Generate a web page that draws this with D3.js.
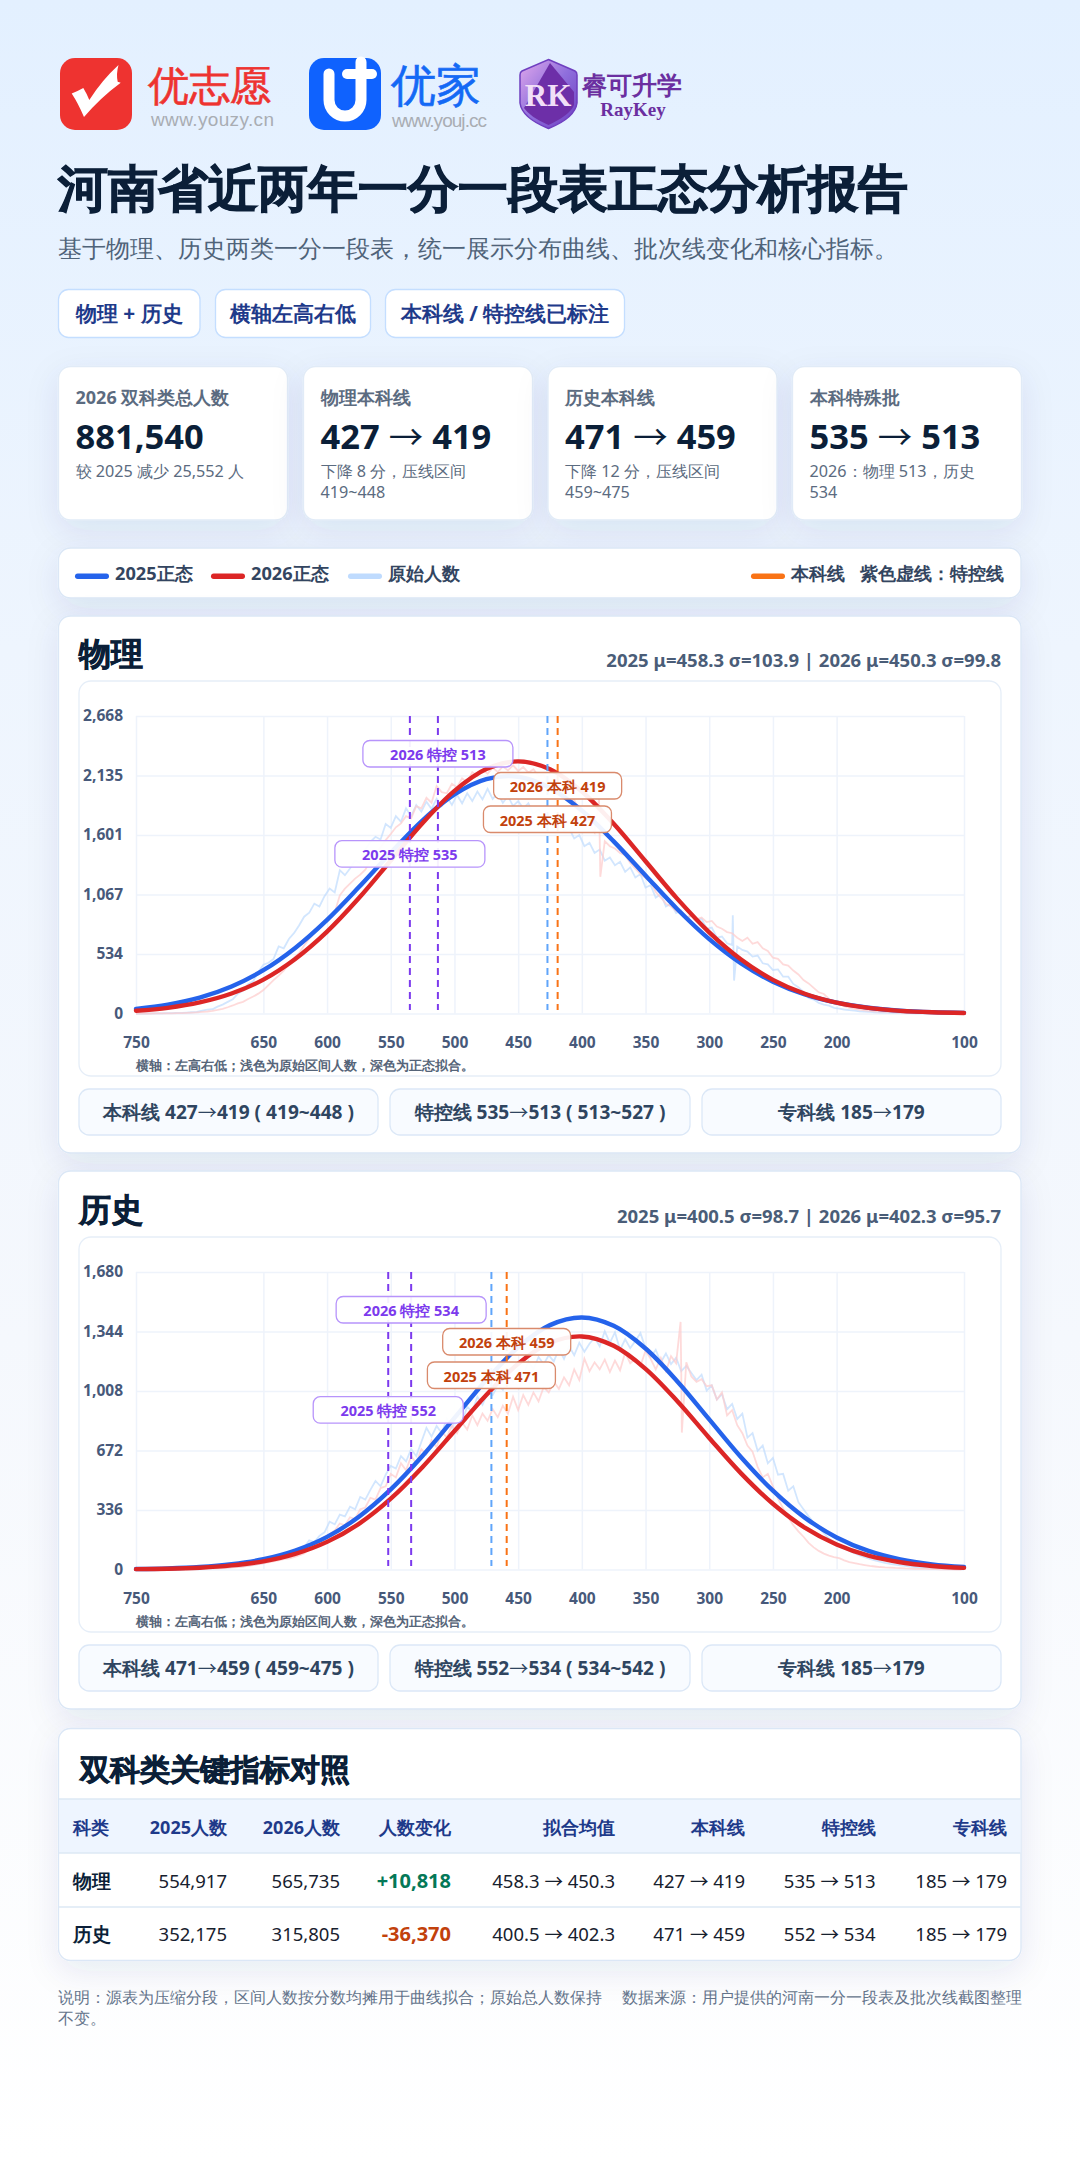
<!DOCTYPE html>
<html><head><meta charset="utf-8">
<script src="https://cdn.jsdelivr.net/npm/d3@7/dist/d3.min.js"></script>
<style>html,body{margin:0;padding:0;background:#fff}svg{display:block}text{font-family:"Noto Sans"}</style>
</head><body><div id="root"></div>
<script>
// ---------- data ----------
const xTicks=[750,650,600,550,500,450,400,350,300,250,200,100];
const yTicksPhys=[0,534,1067,1601,2135,2668];
const yTicksHist=[0,336,672,1008,1344,1680];
const fitScores=[750,725,700,675,650,625,600,575,550,525,500,475,450,425,400,375,350,325,300,275,250,225,200,175,150,125,100];
const physFit2025=[41,79,142,242,388,588,840,1134,1442,1733,1965,2102,2123,2023,1820,1544,1238,935,667,449,285,171,97,52,26,12,6];
const physFit2026=[25,51,99,179,304,489,734,1035,1372,1709,1997,2193,2261,2190,1991,1701,1365,1028,728,484,302,177,97,50,24,11,5];
const histFit2025=[3,6,14,30,58,107,184,298,452,642,856,1070,1255,1380,1423,1376,1248,1062,848,634,445,293,181,105,57,29,14];
const histFit2026=[2,4,10,23,46,88,156,258,400,579,782,986,1162,1280,1316,1263,1133,950,743,543,371,236,141,78,41,20,9];
const rawScores=d3.range(750,99,-4);
const physRaw2025=[0,0,0,1,1,2,3,3,5,6,
8,11,14,26,34,38,62,80,104,128,
178,205,262,290,372,438,455,490,602,585,
668,720,790,868,905,985,960,1052,1120,1085,
1285,1240,1300,1372,1350,1470,1540,1585,1560,1700,
1665,1770,1720,1840,1770,1870,1810,1900,1835,1925,
1860,1945,1870,1960,1885,1975,1905,1990,1920,2015,
1925,1975,1890,1950,1860,1905,1840,1885,1790,1830,
1770,1785,1700,1735,1640,1660,1570,1600,1500,1530,
1440,1470,1370,1400,1330,1360,1270,1310,1220,1250,
1130,1150,1040,1070,960,985,900,925,850,880,
830,850,760,770,680,690,630,615,600,570,
555,510,520,450,440,390,395,330,330,265,
235,195,140,125,95,80,70,50,44,36,
30,25,20,16,14,11,9,7,6,5,
4,3,3,2,2,1,1,1,0,0,
0,0,0];
const physRaw2026=[0,0,0,0,1,1,2,2,3,4,
5,7,10,14,18,24,32,42,56,72,
90,104,130,152,178,210,255,300,340,385,
445,500,540,610,670,725,780,815,870,905,
1060,1120,1165,1210,1245,1290,1370,1440,1490,1555,
1610,1670,1705,1770,1750,1860,1840,1935,1890,2040,
1985,1975,2060,2030,2110,2075,2165,2130,2185,2150,
2205,2165,2215,2180,2225,2175,2210,2160,2190,2130,
2140,2060,2080,1975,1990,1900,1920,1800,1810,1700,
1625,1590,1545,1500,1480,1440,1420,1350,1300,1250,
1215,1180,1090,1040,985,960,920,900,860,880,
845,860,820,830,780,760,730,720,680,650,
680,625,640,585,560,500,490,440,430,385,
350,300,270,230,190,175,130,110,90,65,
50,42,34,28,24,20,16,14,12,10,
8,7,5,4,3,3,2,2,1,1,
1,0,0];
const histRaw2025=[0,0,0,0,1,1,1,2,2,3,
3,4,4,5,6,7,8,9,11,13,
15,18,22,26,30,36,44,52,62,70,
82,92,110,125,165,155,190,210,270,255,
310,300,355,340,410,395,450,500,470,535,
585,570,640,610,680,640,720,800,750,810,
770,850,800,880,835,920,890,975,930,1000,
985,1040,1015,1090,1060,1130,1095,1175,1130,1200,
1160,1210,1175,1245,1190,1260,1210,1280,1230,1275,
1310,1260,1345,1280,1340,1240,1300,1250,1290,1335,
1250,1200,1240,1170,1220,1160,1195,1120,1150,1110,
1070,1100,1010,1040,960,990,905,935,850,880,
745,770,670,700,600,630,535,540,445,470,
380,340,300,265,235,205,175,155,140,120,
105,92,80,70,60,52,45,38,32,27,
23,20,16,14,11,9,8,7,6,5,
4,3,3];
const histRaw2026=[0,0,0,0,0,1,1,1,1,2,
2,3,3,4,5,6,7,8,10,12,
14,17,20,25,30,34,40,46,52,58,
62,70,80,90,118,125,150,160,200,220,
260,250,295,285,340,350,405,395,460,470,
540,520,600,560,640,600,680,650,730,690,
780,745,815,770,830,790,870,815,880,840,
905,860,925,880,975,900,985,930,1000,950,
1030,1000,1060,1020,1085,1040,1130,1070,1190,1120,
1170,1130,1185,1115,1180,1125,1225,1165,1190,1150,
1235,1190,1130,1195,1120,1205,1165,1140,1170,1090,
1060,1075,1035,1040,960,1000,870,900,815,770,
700,665,580,520,540,470,400,345,295,250,
215,185,150,125,105,90,78,70,64,52,
42,36,30,25,20,17,14,12,11,9,
8,6,5,4,3,3,2,2,1,1,
1,0,0];
const physSpike2025=[[281.5,881],[280.5,295]];
const physSpike2026=[[386.5,1924],[385.5,1226]];
const histSpike2026=[[322.5,1398],[321.5,773]];
const physLabels=[["2026 特控 513",513,"t",0],["2026 本科 419",419,"b",1],["2025 本科 427",427,"b",2],["2025 特控 535",535,"t",3]];
const histLabels=[["2026 特控 534",534,"t",0],["2026 本科 459",459,"b",1],["2025 本科 471",471,"b",2],["2025 特控 552",552,"t",3]];
const physCells=["本科线 427→419 ( 419~448 )","特控线 535→513 ( 513~527 )","专科线 185→179"];
const histCells=["本科线 471→459 ( 459~475 )","特控线 552→534 ( 534~542 )","专科线 185→179"];
const tableHead=["科类","2025人数","2026人数","人数变化","拟合均值","本科线","特控线","专科线"];
const tableRows=[["物理","554,917","565,735","+10,818","458.3 → 450.3","427 → 419","535 → 513","185 → 179"],
["历史","352,175","315,805","-36,370","400.5 → 402.3","471 → 459","552 → 534","185 → 179"]];
const statLabels=["2026 双科类总人数","物理本科线","历史本科线","本科特殊批"];
const statValues=["881,540","427 → 419","471 → 459","535 → 513"];
const statNotes=[["较 2025 减少 25,552 人"],["下降 8 分，压线区间","419~448"],["下降 12 分，压线区间","459~475"],["2026：物理 513，历史","534"]];
const tags=["物理 + 历史","横轴左高右低","本科线 / 特控线已标注"];

// ---------- helpers ----------
const W=1080,H=2160;
const svg=d3.select("#root").append("svg").attr("width",W).attr("height",H).attr("viewBox",`0 0 ${W} ${H}`);
const defs=svg.append("defs");
const bg=defs.append("linearGradient").attr("id","bg").attr("x1",0).attr("y1",0).attr("x2",0).attr("y2",1);
[[0,"#e3f0ff"],[0.3,"#eef5fe"],[0.62,"#f5f8fd"],[1,"#ffffff"]].forEach(s=>bg.append("stop").attr("offset",s[0]).attr("stop-color",s[1]));
const sh=defs.append("filter").attr("id","sh").attr("filterUnits","userSpaceOnUse").attr("x",0).attr("y",0).attr("width",1080).attr("height",2160);
sh.append("feDropShadow").attr("dx",0).attr("dy",10).attr("stdDeviation",16).attr("flood-color","#1e3a6e").attr("flood-opacity",0.09);
const shield=defs.append("linearGradient").attr("id","shield").attr("x1",0).attr("y1",0).attr("x2",1).attr("y2",1);
[[0,"#e2a9ec"],[0.5,"#8f6fdc"],[1,"#6d3cc0"]].forEach(s=>shield.append("stop").attr("offset",s[0]).attr("stop-color",s[1]));
svg.append("rect").attr("width",W).attr("height",H).attr("fill","url(#bg)");
function rr(x,y,w,h,r,fill,stroke,filt,p){const e=(p||svg).append("rect").attr("x",x).attr("y",y).attr("width",w).attr("height",h).attr("rx",r).attr("fill",fill);
 if(stroke)e.attr("stroke",stroke).attr("stroke-width",1.3); if(filt)e.attr("filter","url(#sh)"); return e;}
function tx(s,x,y,size,weight,fill,anchor,p){
 const e=(p||svg).append("text").attr("x",x).attr("y",y).attr("font-size",size).attr("font-weight",weight).attr("fill",fill).attr("text-anchor",anchor||"start").attr("dominant-baseline","central");
 s.split("→").forEach((part,i)=>{ if(i) e.append("tspan").style("font-family","Noto Sans CJK SC").attr("font-weight",400).text("→"); e.append("tspan").text(part); });
 return e;}
function heavy(e,w){return e.attr("stroke",e.attr("fill")).attr("stroke-width",w).attr("paint-order","stroke");}

// ---------- logos ----------
rr(60,58,72,72,15,"#ee3330");
svg.append("path").attr("fill","#fff").attr("d","M71.7,93.5 Q78,91 83.3,88 Q87,94 89.3,100 Q102,80 118.5,65 Q116,74 117.7,81.7 L120.7,82.7 Q100,98 84,117 Q78,103 71.7,93.5Z");
heavy(tx("优志愿",148,84,41,500,"#ee3330"),.6);
tx("www.youzy.cn",151,119,19,300,"#a9adb3").style("font-family","Liberation Sans").attr("textLength",123);
rr(309,58,72,72,15,"#0f62fe");
svg.append("path").attr("fill","none").attr("stroke","#fff").attr("stroke-width",11).attr("stroke-linecap","round").attr("d","M329,74 V100 A16,16 0 0 0 361,100 V62");
svg.append("path").attr("fill","none").attr("stroke","#fff").attr("stroke-width",10).attr("stroke-linecap","round").attr("d","M347,74 H372");
heavy(tx("优家",391,83,45,500,"#1469f5"),.6);
tx("www.youj.cc",392,120,19,300,"#a9adb3").style("font-family","Liberation Sans").attr("textLength",95);
svg.append("path").attr("d","M548.5,59.5 L575,71 Q577,72 577,75 L577,103 Q575,118 548.5,128.5 Q522,118 520,103 L520,75 Q520,72 522,71Z").attr("fill","url(#shield)").attr("stroke","#6f3fc0").attr("stroke-width",1.5);
svg.append("path").attr("d","M550,63 L574,92 L574,105 Q570,115 548.5,125 Q530,117 524,108 Z").attr("fill","#6d2fa8");
tx("RK",548,95,31,700,"#f1dff7","middle").style("font-family","Liberation Serif");
tx("睿可升学",582,84,25.2,700,"#6b2fa0");
tx("RayKey",633,109,19,700,"#6b2fa0","middle").style("font-family","Liberation Serif");

// ---------- header ----------
heavy(tx("河南省近两年一分一段表正态分析报告",58,187,50,900,"#0b1f38"),1);
tx("基于物理、历史两类一分一段表，统一展示分布曲线、批次线变化和核心指标。",58,247,24,400,"#4f6379");
const tagX=[[58.5,141.5],[215.5,155],[385.5,239]];
tags.forEach((t,i)=>{rr(tagX[i][0],289.5,tagX[i][1],48,10,"#fff","#c4deff");tx(t,tagX[i][0]+tagX[i][1]/2,313,20.8,700,"#1e3a8a","middle");});
const statX=[58.5,303.5,548,792.5];
statLabels.forEach((l,i)=>{const x=statX[i];rr(x,366.5,229,153.5,12,"#fff","#e1ebf7",true);
 tx(l,x+17,397,18,700,"#5b6b80");tx(statValues[i],x+17,435,34.5,700,"#0b1f38");
 statNotes[i].forEach((n,j)=>tx(n,x+17,471+j*21,16.2,400,"#5b6b80"));});
rr(58.5,548,962.5,50,12,"#fff","#dbe7f6",true);
[[75,"#2563eb","2025正态"],[211,"#dc2626","2026正态"],[348,"#bfdbfe","原始人数"],[751,"#f97316","本科线"]].forEach(d=>{
 svg.append("rect").attr("x",d[0]).attr("y",573.5).attr("width",34).attr("height",5.5).attr("rx",2.7).attr("fill",d[1]);
 tx(d[2],d[0]+40,572.5,18.2,700,"#334560");});
tx("紫色虚线：特控线",860,572.5,18,700,"#334560");

// ---------- chart cards ----------
function chartCard(o){
 rr(58.5,o.top,962.5,o.bottom-o.top,12,"#fff","#dbe7f6",true);
 heavy(tx(o.title,79,o.plotTop-64,32,900,"#0b1f38"),.7);
 tx(o.info,1001,o.plotTop-57,18.5,700,"#4a5d78","end");
 rr(79,o.plotTop-35,922,395,12,"#fff","#e6eef8");
 const x=d3.scaleLinear().domain([750,100]).range([136,964]);
 const y=d3.scaleLinear().domain([0,o.yTicks[5]]).range([o.plotTop+297.5,o.plotTop]);
 const g=svg.append("g");
 const gy=g.append("g").attr("transform","translate(136,0)").call(d3.axisLeft(y).tickValues(o.yTicks).tickSize(-828).tickPadding(13).tickFormat(d3.format(",")));
 const gx=g.append("g").attr("transform",`translate(0,${o.plotTop+297.5})`).call(d3.axisBottom(x).tickValues(xTicks).tickSize(-297.5).tickPadding(23));
 [gy,gx].forEach(a=>{a.select(".domain").remove();a.selectAll(".tick line").attr("stroke","#eef3fb").attr("stroke-width",1.5);
  a.selectAll("text").attr("font-size",15.5).attr("font-weight",700).attr("fill","#47597a").style("font-family","Noto Sans");});
 const merge=(vals,sp)=>rawScores.map((s,i)=>[s,vals[i]]).concat(sp||[]).sort((a,b)=>b[0]-a[0]);
 const raw=d3.line().x(d=>x(d[0])).y(d=>y(d[1]));
 g.append("path").attr("d",raw(merge(o.raw25,o.sp25))).attr("fill","none").attr("stroke","#bfdbfe").attr("stroke-width",1.8).attr("opacity",.7);
 g.append("path").attr("d",raw(merge(o.raw26,o.sp26))).attr("fill","none").attr("stroke","#fecaca").attr("stroke-width",1.8).attr("opacity",.7);
 const fit=d3.line().x((d,i)=>x(fitScores[i])).y(d=>y(d)).curve(d3.curveCatmullRom);
 [[o.fit25,"#2563eb"],[o.fit26,"#dc2626"]].forEach(f=>g.append("path").attr("d",fit(f[0])).attr("fill","none").attr("stroke",f[1]).attr("stroke-width",4.4).attr("stroke-linecap","round"));
 const yb=o.plotTop+294;
 [[o.b25,"#60a5fa"],[o.b26,"#f97316"],[o.t25,"#7c3aed"],[o.t26,"#7c3aed"]].forEach(d=>g.append("line").attr("x1",x(d[0])).attr("x2",x(d[0])).attr("y1",o.plotTop).attr("y2",yb).attr("stroke",d[1]).attr("stroke-width",2).attr("stroke-dasharray","7 5"));
 const offs=[24.5,56.5,90,124.7];
 o.labels.forEach(l=>{const w=l[2]==="t"?150:128,cx=x(l[1]),yy=o.plotTop+offs[l[3]],purple=l[2]==="t";
  rr(cx-w/2,yy,w,26.5,7,"rgba(255,255,255,.93)",purple?"#b794fb":"#d98a6c");
  tx(l[0],cx,yy+13.5,14.5,700,purple?"#7c3aed":"#c2410c","middle");});
 tx("横轴：左高右低；浅色为原始区间人数，深色为正态拟合。",136,o.plotTop+349,13.3,700,"#566579");
 const cx=[79,390,702],ww=[299,300,299];
 o.cells.forEach((c,i)=>{rr(cx[i],o.plotTop+373,ww[i],46,10,"#f8fbff","#dce8f7");tx(c,cx[i]+ww[i]/2,o.plotTop+396,19.1,700,"#2f4560","middle");});
}
chartCard({top:616,bottom:1153,plotTop:716,title:"物理",info:"2025 μ=458.3 σ=103.9 | 2026 μ=450.3 σ=99.8",yTicks:yTicksPhys,raw25:physRaw2025,raw26:physRaw2026,sp25:physSpike2025,sp26:physSpike2026,fit25:physFit2025,fit26:physFit2026,b25:427,b26:419,t25:535,t26:513,labels:physLabels,cells:physCells});
chartCard({top:1171,bottom:1709,plotTop:1272,title:"历史",info:"2025 μ=400.5 σ=98.7 | 2026 μ=402.3 σ=95.7",yTicks:yTicksHist,raw25:histRaw2025,raw26:histRaw2026,sp26:histSpike2026,fit25:histFit2025,fit26:histFit2026,b25:471,b26:459,t25:552,t26:534,labels:histLabels,cells:histCells});

// ---------- table ----------
rr(58.5,1728.5,962.5,232,12,"#fff","#dbe7f6",true);
heavy(tx("双科类关键指标对照",80,1768,30,900,"#0b1f38"),.7);
svg.append("rect").attr("x",59).attr("y",1799).attr("width",961.5).attr("height",54).attr("fill","#eef5ff");
[1799,1853,1907].forEach(y=>svg.append("line").attr("x1",59).attr("x2",1020.5).attr("y1",y).attr("y2",y).attr("stroke","#dde8f5").attr("stroke-width",1.3));
const colX=[73,227,340,451,615,745,875.5,1007];
tableHead.forEach((h,i)=>tx(h,colX[i],1827,18,700,"#1e3a8a",i?"end":"start"));
tableRows.forEach((r,j)=>r.forEach((c,i)=>{const yy=1880+j*53;
 let col="#17212e",wt=400,fs=18.5;
 if(i===0){wt=700;col="#0b1f38";}
 if(i===3){wt=700;fs=20;col=j===0?"#047857":"#c2410c";}
 tx(c,colX[i],yy,fs,wt,col,i?"end":"start");}));
tx("说明：源表为压缩分段，区间人数按分数均摊用于曲线拟合；原始总人数保持",58,1997,16,400,"#64748b");
tx("数据来源：用户提供的河南一分一段表及批次线截图整理",622,1997,16,400,"#64748b");
tx("不变。",58,2018,16,400,"#64748b");
</script></body></html>
